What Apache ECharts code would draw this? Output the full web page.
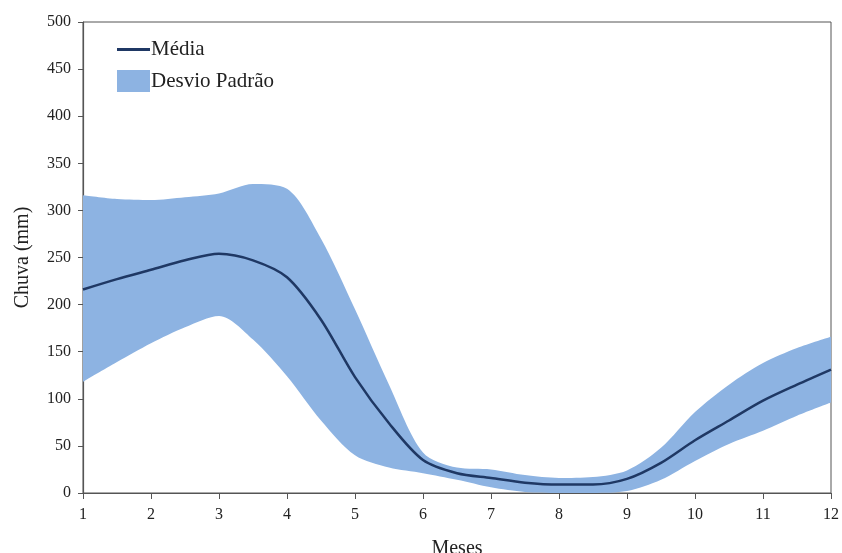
<!DOCTYPE html>
<html>
<head>
<meta charset="utf-8">
<script src="https://cdn.jsdelivr.net/npm/echarts@6/dist/echarts.min.js"></script>
<style>
  html, body { margin: 0; padding: 0; background: #fff; }
  #chart { width: 842px; height: 553px; }
</style>
</head>
<body>
<div id="chart"></div>
<script>
// Monthly rainfall: mean and standard-deviation envelope (half-month sampling)
const months = ['1', '1.5', '2', '2.5', '3', '3.5', '4', '4.5', '5', '5.5', '6', '6.5', '7', '7.5', '8', '8.5', '9', '9.5', '10', '10.5', '11', '11.5', '12'];
const media = [216, 227, 237, 247, 254, 247, 229, 184, 123, 74, 35, 21, 16, 11, 9, 9, 15, 32, 56, 77, 98, 115, 131];
const upper = [316, 312, 311, 314, 318, 328, 323, 270, 195, 115, 43, 27, 25, 19, 16, 17, 24, 48, 86, 115, 138, 154, 166];
const lower = [118, 139, 159, 176, 188, 163, 124, 77, 40, 27, 21, 14, 6, 1, 0, 0, 2, 14, 34, 52, 66, 82, 96];
const yTicks = [0, 50, 100, 150, 200, 250, 300, 350, 400, 450, 500];

const serif = '"Liberation Serif", "DejaVu Serif", serif';
const lineColor = '#1f3864';
const bandColor = '#8db3e2';
const smoothness = 0.3;

const bandWidth = upper.map((u, i) => u - lower[i]);
const wholeMonth = (idx, val) => Number.isInteger(Number(val));

const chart = echarts.init(document.getElementById('chart'), null, { renderer: 'canvas' });
chart.setOption({
  animation: false,
  backgroundColor: '#fff',
  grid: {
    left: 83, right: 11, top: 22, bottom: 60,
    containLabel: false, outerBoundsMode: 'none',
    show: true, borderColor: '#555', borderWidth: 1
  },
  legend: {
    left: 112, top: 34, orient: 'vertical', itemGap: 10,
    itemWidth: 33, itemHeight: 22,
    textStyle: { fontFamily: serif, fontSize: 21, color: '#222', padding: [0, 0, 0, -4] },
    data: [
      { name: 'Média', icon: 'path://M0,10 L33,10 L33,13 L0,13 Z', itemStyle: { color: lineColor } },
      { name: 'Desvio Padrão', icon: 'rect', itemStyle: { color: bandColor } }
    ]
  },
  xAxis: {
    type: 'category', data: months, boundaryGap: false,
    name: 'Meses', nameLocation: 'middle', nameGap: 46,
    nameTextStyle: { fontFamily: serif, fontSize: 20, color: '#222' },
    axisLine: { show: true, lineStyle: { color: '#555', width: 1.2 } },
    axisTick: { show: true, inside: false, length: 6, interval: wholeMonth, lineStyle: { color: '#555' } },
    axisLabel: { fontFamily: serif, fontSize: 16, color: '#222', margin: 14, interval: wholeMonth },
    splitLine: { show: false }
  },
  yAxis: {
    type: 'value', min: 0, max: 500, interval: 50,
    name: 'Chuva (mm)', nameLocation: 'middle', nameGap: 50,
    nameTextStyle: { fontFamily: serif, fontSize: 20, color: '#222' },
    axisLine: { show: true, lineStyle: { color: '#555', width: 1.2 } },
    axisTick: { show: true, inside: false, length: 5, lineStyle: { color: '#555' } },
    axisLabel: {
      fontFamily: serif, fontSize: 16, color: '#222', margin: 12,
      formatter: (v) => (yTicks.includes(v) ? String(v) : '')
    },
    splitLine: { show: false }
  },
  series: [
    {
      name: 'base', type: 'line', stack: 'band', data: lower,
      smooth: smoothness, symbol: 'none', silent: true,
      lineStyle: { opacity: 0 }, areaStyle: { opacity: 0 }
    },
    {
      name: 'Desvio Padrão', type: 'line', stack: 'band', data: bandWidth,
      smooth: smoothness, symbol: 'none', silent: true,
      lineStyle: { opacity: 0 }, areaStyle: { color: bandColor, opacity: 1 },
      itemStyle: { color: bandColor }
    },
    {
      name: 'Média', type: 'line', data: media,
      smooth: smoothness, symbol: 'none', z: 5,
      lineStyle: { color: lineColor, width: 2.5 },
      itemStyle: { color: lineColor }
    }
  ]
});
</script>
</body>
</html>
